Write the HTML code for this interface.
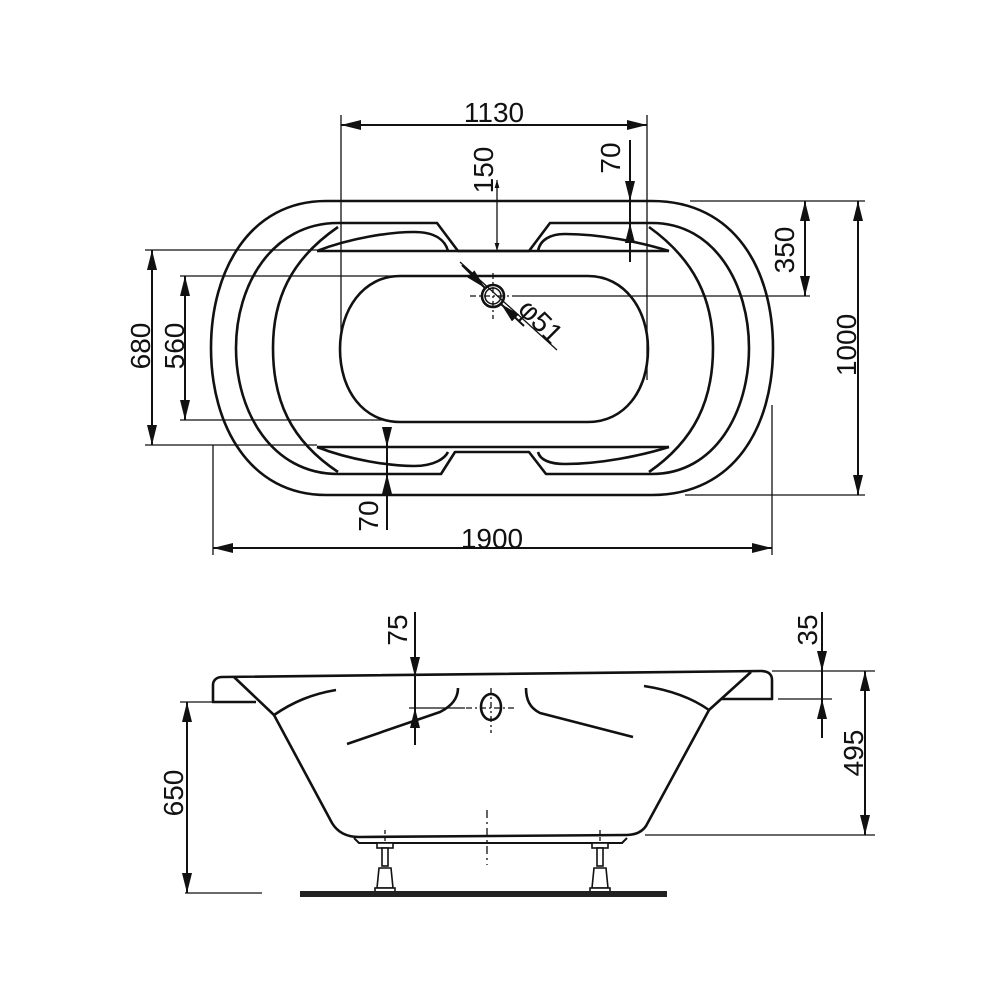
<!DOCTYPE html>
<html><head><meta charset="utf-8"><style>
html,body{margin:0;padding:0;background:#fff}
svg{display:block}
text{font-family:"Liberation Sans",sans-serif;font-size:28px;fill:#111}
</style></head><body>
<svg width="1000" height="1000" viewBox="0 0 1000 1000" xmlns="http://www.w3.org/2000/svg">
<defs>
<marker id="a" viewBox="0 0 20 10" refX="20" refY="5" markerWidth="20" markerHeight="10" markerUnits="userSpaceOnUse" orient="auto-start-reverse"><path d="M0,0 L20,5 L0,10 Z" fill="#111"/></marker>
<marker id="s" viewBox="0 0 10 6" refX="10" refY="3" markerWidth="8" markerHeight="5" markerUnits="userSpaceOnUse" orient="auto-start-reverse"><path d="M0,0 L10,3 L0,6 Z" fill="#111"/></marker>
</defs>
<g fill="none" stroke="#111" stroke-width="2.6" stroke-linejoin="round">
<path d="M326,201 L652,201 C735,201 773,270 773,348 C773,426 735,495 652,495 L326,495 C250,495 211,426 211,348 C211,270 250,201 326,201 Z"/>
<path d="M338,223 L437,223 L458,251 L529,251 L550,223 L652,223 C715,223 749,285 749,348 C749,412 715,474 652,474 L546,474 L529,452 L455,452 L441,474 L338,474 C272,474 236,412 236,348 C236,285 272,223 338,223 Z"/>
<path d="M338,227 C290,260 273,300 273,348 C273,400 290,440 338,472"/>
<path d="M649,227 C695,260 713,300 713,348 C713,400 695,440 649,472"/>
<path d="M317,251 L669,251"/>
<path d="M317,447 L669,447"/>
<path d="M317,251 C350,238 390,232 414,232 C435,232 445,240 448,251"/>
<path d="M538,251 C540,240 550,234 565,234 C600,234 640,242 669,251"/>
<path d="M317,447 C350,460 390,466 414,466 C435,466 445,458 448,452"/>
<path d="M538,452 C540,460 550,464 565,464 C600,464 640,456 669,447"/>
<path d="M400,276 L588,276 C625,276 648,310 648,349 C648,390 625,422 588,422 L400,422 C363,422 340,390 340,349 C340,310 363,276 400,276 Z"/>
<circle cx="493" cy="296" r="11"/><circle cx="493" cy="296" r="8" stroke-width="1.5"/>
</g>
<g stroke="#111" stroke-width="1.3" fill="none">
<path d="M470,296 L516,296 M493,273 L493,319" stroke-dasharray="6,3,2,3"/>
<path d="M516,296 L810,296"/>
<path d="M341,115 L341,335 M647,115 L647,380"/>
<path d="M341,125 L647,125" stroke-width="2" marker-start="url(#a)" marker-end="url(#a)"/>
<path d="M497,180 L497,251" marker-end="url(#s)" marker-start="url(#s)"/>
<path d="M630,140 L630,201" stroke-width="2" marker-end="url(#a)"/>
<path d="M630,262 L630,223" stroke-width="2" marker-end="url(#a)"/>
<path d="M630,201 L630,223" stroke-width="2"/>
<path d="M690,201 L865,201 M685,495 L865,495"/>
<path d="M805,201 L805,296" stroke-width="2" marker-start="url(#a)" marker-end="url(#a)"/>
<path d="M858,201 L858,495" stroke-width="2" marker-start="url(#a)" marker-end="url(#a)"/>
<path d="M145,250 L317,250 M145,445 L317,445 M180,276 L397,276 M180,420 L384,420"/>
<path d="M152,250 L152,445" stroke-width="2" marker-start="url(#a)" marker-end="url(#a)"/>
<path d="M185,276 L185,420" stroke-width="2" marker-start="url(#a)" marker-end="url(#a)"/>
<path d="M387,430 L387,447" stroke-width="2" marker-end="url(#a)"/>
<path d="M387,530 L387,474" stroke-width="2" marker-end="url(#a)"/>
<path d="M387,447 L387,474" stroke-width="2"/>
<path d="M213,445 L213,555 M772,405 L772,555"/>
<path d="M213,548 L772,548" stroke-width="2" marker-start="url(#a)" marker-end="url(#a)"/>
<path d="M460,262 L557,350"/>
<path d="M462,265 L485,288" stroke-width="2" marker-end="url(#a)"/>
<path d="M524,326 L501,304" stroke-width="2" marker-end="url(#a)"/>
</g>
<text x="494" y="122" text-anchor="middle">1130</text>
<text transform="translate(493,170) rotate(-90)" text-anchor="middle">150</text>
<text transform="translate(620,158) rotate(-90)" text-anchor="middle">70</text>
<text transform="translate(794,250) rotate(-90)" text-anchor="middle">350</text>
<text transform="translate(856,345) rotate(-90)" text-anchor="middle">1000</text>
<text transform="translate(150,346) rotate(-90)" text-anchor="middle">680</text>
<text transform="translate(184,346) rotate(-90)" text-anchor="middle">560</text>
<text transform="translate(378,516) rotate(-90)" text-anchor="middle">70</text>
<text x="492" y="548" text-anchor="middle">1900</text>
<text transform="translate(534,328) rotate(45)" text-anchor="middle">φ51</text>

<g fill="none" stroke="#111" stroke-width="2.6" stroke-linejoin="round">
<path d="M222,677 L761,671 C768,671 772,674 772,680 L772,699 L722,699"/>
<path d="M256,702 L213,702 L213,685 C213,680 217,677 222,677"/>
<path d="M234,677 L274,715 L332,823 C338,833 348,837 359,837 L626,835 C636,835 642,832 646,826 L709,710 L751,672"/>
<path d="M274,715 C293,702 312,694 336,690"/>
<path d="M644,686 C670,690 692,698 709,710"/>
<path d="M347,744 L440,712 C452,706 458,698 458,688"/>
<path d="M526,688 C526,700 530,708 540,713 L633,737"/>
<ellipse cx="491" cy="707" rx="10" ry="13"/>
<path d="M354,838 L359,843 L622,843 L627,838" stroke-width="2"/>
</g>
<g stroke="#111" stroke-width="1.3" fill="none">
<path d="M466,708 L516,708 M491,688 L491,733" stroke-dasharray="6,3,2,3"/>
<path d="M487,810 L487,865" stroke-dasharray="8,4,2,4"/>
<path d="M385,830 L385,845 M600,830 L600,845" stroke-dasharray="4,3"/>
<path d="M180,702 L213,702 M185,893 L262,893"/>
<path d="M187,702 L187,893" stroke-width="2" marker-start="url(#a)" marker-end="url(#a)"/>
<path d="M409,708 L465,708"/>
<path d="M415,612 L415,677" stroke-width="2" marker-end="url(#a)"/>
<path d="M415,745 L415,708" stroke-width="2" marker-end="url(#a)"/>
<path d="M415,677 L415,708" stroke-width="2"/>
<path d="M772,671 L875,671 M778,699 L832,699 M645,835 L875,835"/>
<path d="M822,612 L822,671" stroke-width="2" marker-end="url(#a)"/>
<path d="M822,738 L822,699" stroke-width="2" marker-end="url(#a)"/>
<path d="M822,671 L822,699" stroke-width="2"/>
<path d="M865,671 L865,835" stroke-width="2" marker-start="url(#a)" marker-end="url(#a)"/>
</g>
<g fill="#fff" stroke="#111" stroke-width="1.6">
<rect x="377" y="843" width="16" height="5"/>
<rect x="382" y="848" width="6" height="18"/>
<path d="M379,868 L391,868 L393,888 L377,888 Z"/>
<rect x="375" y="888" width="20" height="4"/>
<rect x="592" y="843" width="16" height="5"/>
<rect x="597" y="848" width="6" height="18"/>
<path d="M594,868 L606,868 L608,888 L592,888 Z"/>
<rect x="590" y="888" width="20" height="4"/>
</g>
<rect x="300" y="891" width="367" height="6" fill="#222"/>
<text transform="translate(407,630) rotate(-90)" text-anchor="middle">75</text>
<text transform="translate(817,630) rotate(-90)" text-anchor="middle">35</text>
<text transform="translate(863,753) rotate(-90)" text-anchor="middle">495</text>
<text transform="translate(183,793) rotate(-90)" text-anchor="middle">650</text>
</svg>
</body></html>
